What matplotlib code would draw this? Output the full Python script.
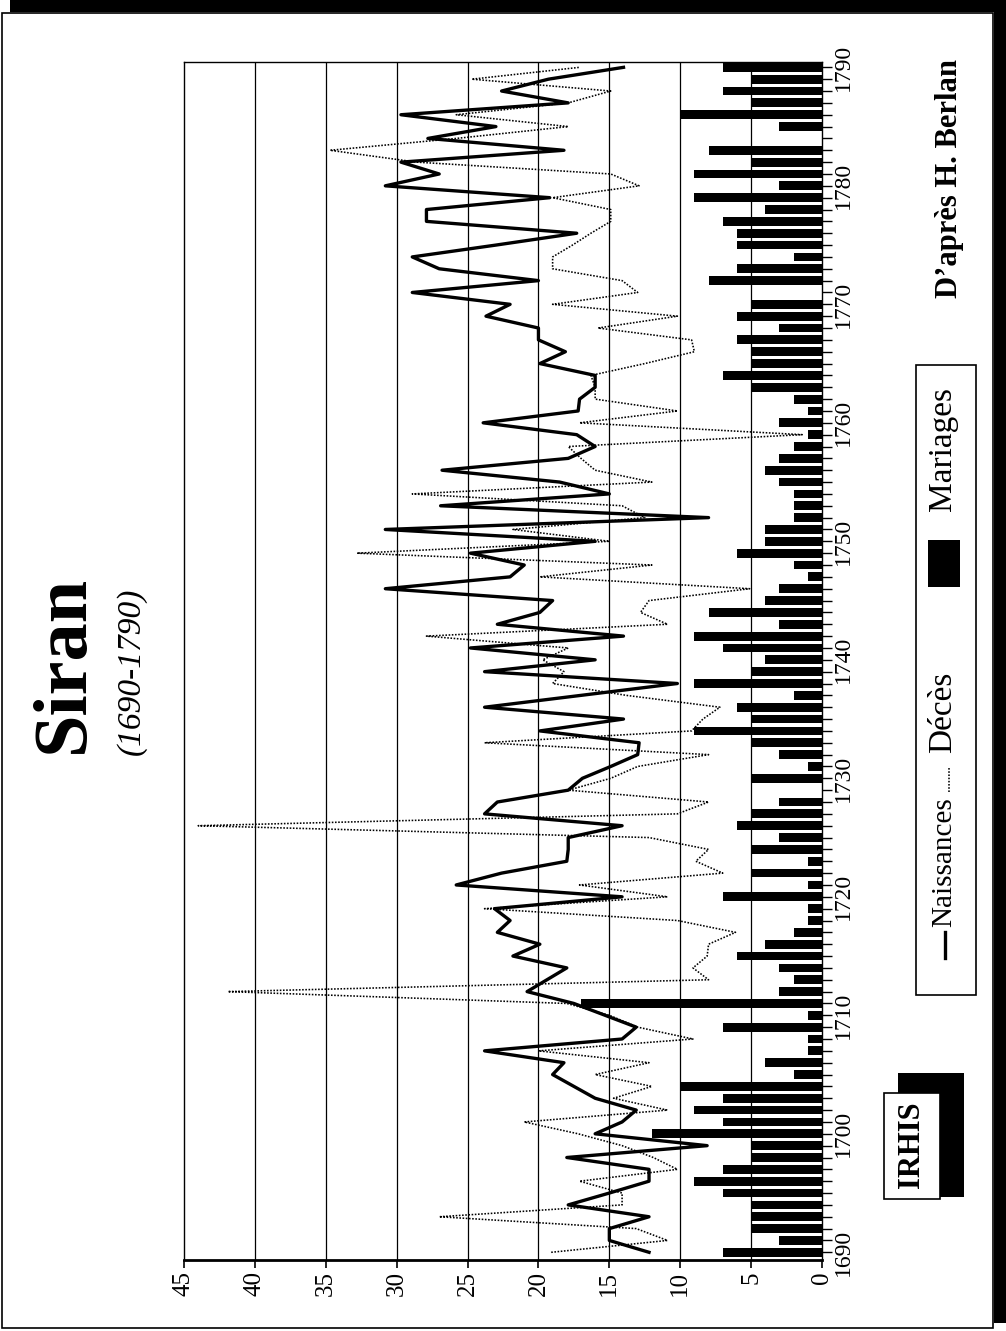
import numpy as np
import matplotlib
matplotlib.use('Agg')
import matplotlib.pyplot as plt
from matplotlib.patches import Rectangle
from matplotlib.lines import Line2D

plt.rcParams['font.family'] = ['Liberation Serif', 'DejaVu Serif']

# Data: Siran parish registers, 1690-1790
years = list(range(1690, 1791))

naissances = [
    12.2, 15.0, 15.0, 12.2, 17.9, 15.0, 12.2, 12.2, 18.0, 8.1,    # 1690-1699
    16.0, 14.1, 13.1, 16.0, 17.5, 19.0, 18.2, 23.8, 14.1, 13.1,   # 1700-1709
    15.3, 17.5, 20.8, 19.4, 18.0, 21.8, 19.9, 22.9, 22.0, 23.1,   # 1710-1719
    14.1, 25.8, 22.6, 18.0, 17.9, 17.9, 14.1, 23.8, 22.9, 17.9,   # 1720-1729
    16.9, 14.9, 13.0, 12.9, 19.9, 14.0, 23.8, 17.0, 10.2, 23.8,   # 1730-1739
    16.0, 24.8, 14.0, 22.9, 19.9, 19.0, 30.8, 22.0, 21.0, 24.8,   # 1740-1749
    16.0, 30.8, 8.0, 26.9, 15.0, 18.5, 26.8, 17.9, 16.0, 17.3,    # 1750-1759
    23.9, 17.2, 17.1, 16.0, 16.0, 19.9, 18.1, 20.0, 20.0, 23.7,   # 1760-1769
    22.0, 28.9, 20.0, 27.0, 28.9, 23.0, 17.3, 27.9, 27.9, 19.2,   # 1770-1779
    30.8, 27.0, 29.7, 18.2, 27.8, 23.0, 29.7, 17.9, 22.6, 19.3,   # 1780-1789
    14.0,                                                          # 1790
]

deces = [
    19.1, 10.9, 13.1, 27.0, 14.1, 14.1, 17.1, 10.2, 11.9, 14.1,   # 1690-1699
    17.2, 21.0, 10.9, 14.7, 12.0, 16.0, 12.2, 20.0, 9.1, 13.0,    # 1700-1709
    15.0, 18.0, 41.9, 8.0, 9.1, 8.1, 8.0, 6.1, 10.2, 23.8,        # 1710-1719
    10.9, 17.1, 7.0, 8.9, 8.0, 12.2, 44.0, 10.2, 8.0, 17.9,       # 1720-1729
    14.9, 13.0, 8.0, 23.8, 9.2, 8.4, 7.2, 13.8, 19.0, 18.2,       # 1730-1739
    19.7, 17.9, 27.9, 10.9, 12.8, 12.2, 5.1, 19.9, 12.0, 32.8,    # 1740-1749
    15.0, 21.8, 12.5, 14.1, 28.9, 12.0, 16.0, 17.0, 17.9, 1.4,    # 1750-1759
    17.1, 10.2, 16.0, 16.0, 16.3, 12.5, 9.0, 9.2, 15.8, 10.2,     # 1760-1769
    19.0, 13.0, 14.1, 19.0, 19.0, 17.6, 16.3, 14.9, 14.9, 19.0,   # 1770-1779
    12.9, 14.9, 28.6, 34.7, 25.8, 17.9, 25.8, 17.9, 14.9, 24.7,   # 1780-1789
    17.1,                                                          # 1790
]

mariages = [
    7, 3, 5, 5, 5, 7, 9, 7, 5, 5,      # 1690-1699
    12, 7, 9, 7, 10, 2, 4, 1, 1, 7,    # 1700-1709
    1, 17, 3, 2, 3, 6, 4, 2, 1, 1,     # 1710-1719
    7, 1, 5, 1, 5, 3, 6, 5, 3, 0,      # 1720-1729
    5, 1, 3, 5, 9, 5, 6, 2, 9, 5,      # 1730-1739
    4, 7, 9, 3, 8, 4, 3, 1, 2, 6,      # 1740-1749
    4, 4, 2, 2, 2, 3, 4, 3, 2, 1,      # 1750-1759
    3, 1, 2, 5, 7, 5, 5, 6, 3, 6,      # 1760-1769
    5, 0, 8, 6, 2, 6, 6, 7, 4, 9,      # 1770-1779
    3, 9, 5, 8, 0, 3, 10, 5, 7, 5,     # 1780-1789
    7,                                 # 1790
]

value_ticks = list(range(0, 46, 5))
year_ticks = list(range(1690, 1791, 10))

W, H = 1006, 1331
dots = (0, (1, 1))


def fx(px):
    return px / W


def fy(py):
    return 1 - py / H


def box(fig, x0, y0, x1, y1, **kw):
    """Rectangle in pixel coordinates of the page (origin top-left)."""
    r = Rectangle((fx(x0), fy(y1)), (x1 - x0) / W, (y1 - y0) / H,
                  transform=fig.transFigure, **kw)
    fig.add_artist(r)
    return r


fig = plt.figure(figsize=(W / 100, H / 100), dpi=100)
fig.patch.set_facecolor('white')

# Page frame with drop shadow (top and right)
box(fig, 2, 13, 993, 1328, facecolor='none', edgecolor='black', lw=1.2)
box(fig, 10, 0, W, 12, facecolor='black', edgecolor='none')
box(fig, 994, 0, W, H - 8, facecolor='black', edgecolor='none')

# Main chart, drawn rotated: values run right-to-left, years bottom-to-top
ax = fig.add_axes([fx(184), fy(1260), (822 - 184) / W, (1260 - 62) / H])
ax.set_xlim(45, 0)
ax.set_ylim(1689.35, 1790.45)

for v in value_ticks[1:-1]:
    ax.axvline(v, color='black', lw=0.9, zorder=1)

ax.barh(years, mariages, height=0.74, color='black', zorder=2)
ax.plot(deces, years, color='black', lw=1.15, ls=dots, zorder=3)
ax.plot(naissances, years, color='black', lw=2.4, zorder=4)

for side in ['top', 'left', 'right']:
    ax.spines[side].set_linewidth(1.0)
ax.spines['bottom'].set_linewidth(2.0)

ax.set_xticks(value_ticks)
ax.set_xticklabels([str(v) for v in value_ticks], rotation=90,
                   ha='center', va='top', fontsize=18)
ax.tick_params(axis='x', direction='out', length=6, width=1.2, pad=2)

ax.yaxis.tick_right()
ax.set_yticks(year_ticks)
ax.set_yticklabels([str(y) for y in year_ticks], rotation=90,
                   ha='left', va='center', fontsize=17)
ax.set_yticks(years, minor=True)
ax.tick_params(axis='y', which='both', direction='out', length=7,
               width=1.0, pad=1, left=False, right=True)

# Titles
fig.text(fx(64), fy(664), 'Siran', rotation=90, ha='center', va='center',
         fontsize=55, fontweight='bold')
fig.text(fx(131), fy(671), '(1690-1790)', rotation=90, ha='center',
         va='center', fontsize=24, fontstyle='italic')

# Legend box
box(fig, 916, 365, 976, 995, facecolor='white', edgecolor='black', lw=1.2)
fig.add_artist(Line2D([fx(945), fx(945)], [fy(958), fy(932)], color='black',
                      lw=2.4, transform=fig.transFigure))
fig.text(fx(944), fy(862), 'Naissances', rotation=90, ha='center',
         va='center', fontsize=21)
fig.add_artist(Line2D([fx(949), fx(949)], [fy(792), fy(768)], color='black',
                      lw=1.15, ls=dots, transform=fig.transFigure))
fig.text(fx(943), fy(712), 'Décès', rotation=90, ha='center', va='center',
         fontsize=24)
box(fig, 928, 540, 960, 587, facecolor='black', edgecolor='none')
fig.text(fx(943), fy(449), 'Mariages', rotation=90, ha='center',
         va='center', fontsize=24)

# IRHIS badge with shadow
box(fig, 898, 1073, 964, 1197, facecolor='black', edgecolor='none')
box(fig, 884, 1093, 940, 1199, facecolor='white', edgecolor='black', lw=1.2)
fig.text(fx(911), fy(1145), 'IRHIS', rotation=90, ha='center', va='center',
         fontsize=22, fontweight='bold')

# Source
fig.text(fx(950), fy(178), 'D\u2019après H. Berlan', rotation=90,
         ha='center', va='center', fontsize=22, fontweight='bold')

fig.savefig('out.png', dpi=100)
